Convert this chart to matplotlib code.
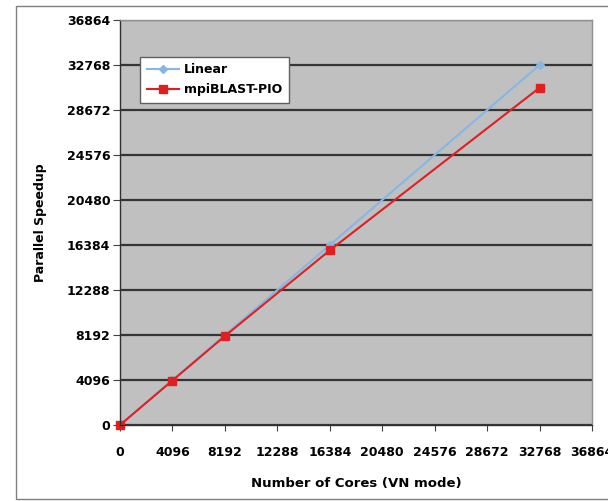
import matplotlib.pyplot as plt
from matplotlib.patches import Rectangle

plt.rcParams['font.family'] = ['DejaVu Sans']
plt.rcParams['font.weight'] = 'bold'
plt.rcParams['axes.labelweight'] = 'bold'

cores = [0, 4096, 8192, 16384, 32768]
linear = [0, 4096, 8192, 16384, 32768]
mpiblast_pio = [0, 4050, 8100, 15900, 30700]
ticks = [0, 4096, 8192, 12288, 16384, 20480, 24576, 28672, 32768, 36864]

fig = plt.figure(figsize=(6.08, 5.01), dpi=100)
fig.patches.append(Rectangle((16 / 608, 2 / 501), 1.0, 493 / 501, transform=fig.transFigure,
                             fill=False, edgecolor='#808080', linewidth=1.0))

ax = fig.add_axes([120 / 608, 76 / 501, 472 / 608, 405 / 501])
ax.set_facecolor('#c0c0c0')

ax.plot(cores, linear, color='#86b6e6', marker='D', markersize=4, linewidth=1.5,
        label='Linear', clip_on=False)
ax.plot(cores, mpiblast_pio, color='#e02020', marker='s', markersize=6, linewidth=1.5,
        label='mpiBLAST-PIO', clip_on=False)

ax.set_xlim(0, 36864)
ax.set_ylim(0, 36864)
ax.set_xticks(ticks)
ax.set_yticks(ticks)
ax.tick_params(labelsize=9, color='#404040')
ax.tick_params(axis='x', length=4, pad=11)
ax.tick_params(axis='y', length=5, pad=2)
# the last x label runs past the figure edge
for lbl in ax.get_xticklabels():
    lbl.set_clip_on(False)

ax.yaxis.grid(True, color='#353535', linewidth=1.6)
ax.set_axisbelow(True)
for side in ['left', 'bottom']:
    ax.spines[side].set_color('#303030')
    ax.spines[side].set_linewidth(1.0)
for side in ['top', 'right']:
    ax.spines[side].set_color('#909090')
    ax.spines[side].set_linewidth(1.0)

ax.set_xlabel('Number of Cores (VN mode)', fontsize=9.5, labelpad=13)
ax.set_ylabel('Parallel Speedup', fontsize=9, labelpad=14)

leg = ax.legend(loc='upper left', bbox_to_anchor=(0.03, 0.925), fontsize=9, frameon=True,
                fancybox=False, framealpha=1.0, borderpad=0.5, handlelength=2.6,
                handletextpad=0.4, labelspacing=0.6)
leg.get_frame().set_edgecolor('#606060')
leg.get_frame().set_linewidth(1.0)

fig.savefig('out.png', dpi=100)
